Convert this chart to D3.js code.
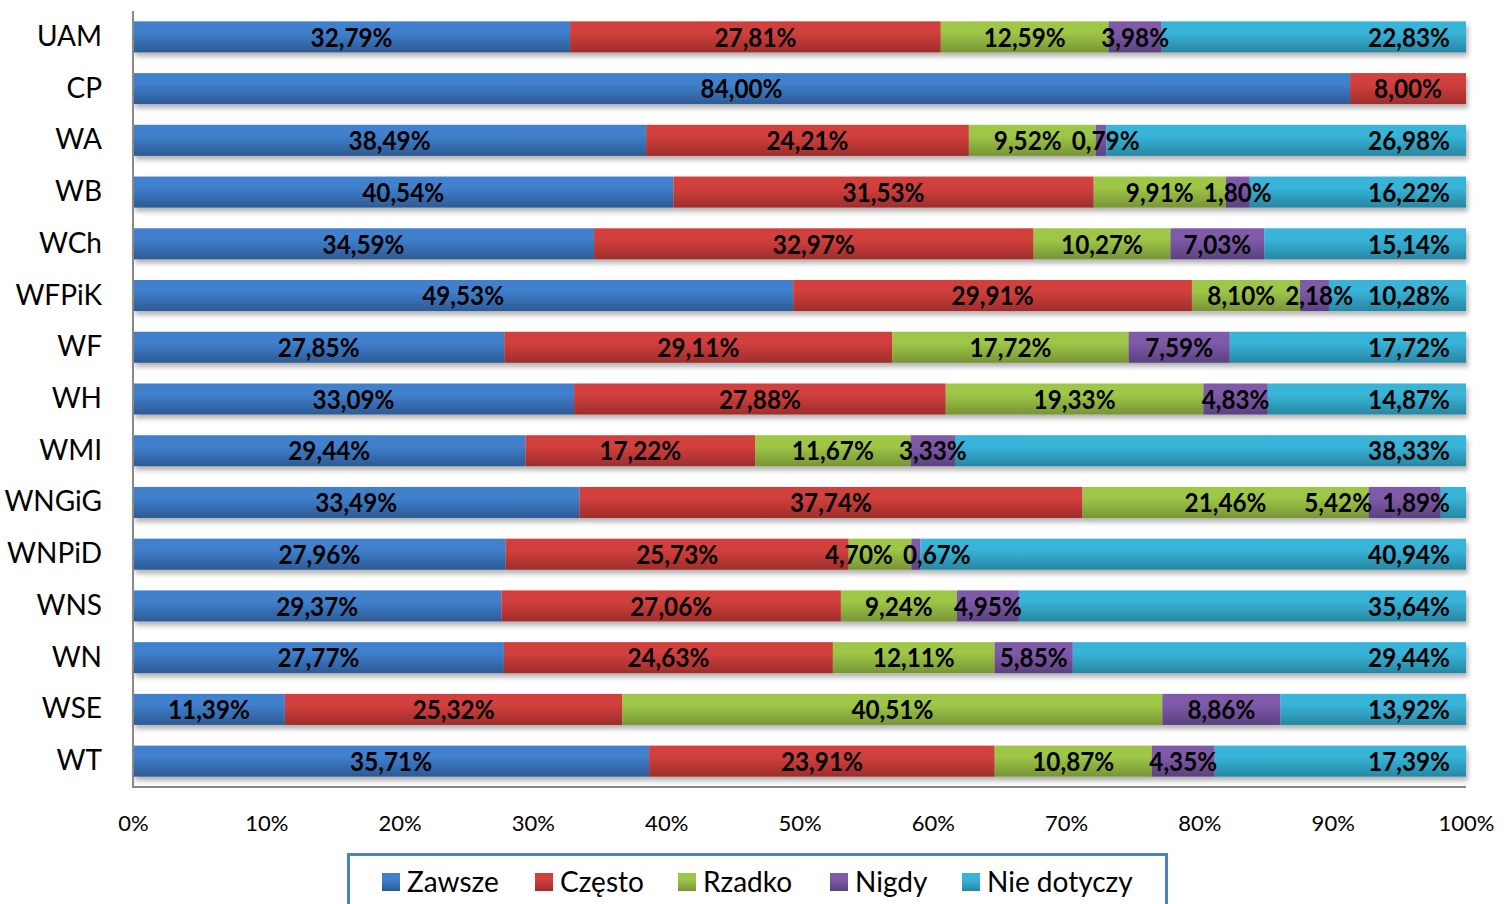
<!DOCTYPE html>
<html>
<head>
<meta charset="utf-8">
<script src="https://cdn.jsdelivr.net/npm/d3@7"></script>
<style>
  body { margin: 0; background: white; }
  svg { display: block; font-family: Lato, "Open Sans", sans-serif; }
</style>
</head>
<body>
<div id="chart"></div>
<script>
var width = 1511
var height = 904

// Data

var categories = ["UAM", "CP", "WA", "WB", "WCh", "WFPiK", "WF", "WH", "WMI", "WNGiG", "WNPiD", "WNS", "WN", "WSE", "WT"]
var seriesNames = ["Zawsze", "Często", "Rzadko", "Nigdy", "Nie dotyczy"]

var zawsze     = [32.79, 84.00, 38.49, 40.54, 34.59, 49.53, 27.85, 33.09, 29.44, 33.49, 27.96, 29.37, 27.77, 11.39, 35.71]
var czesto     = [27.81,  8.00, 24.21, 31.53, 32.97, 29.91, 29.11, 27.88, 17.22, 37.74, 25.73, 27.06, 24.63, 25.32, 23.91]
var rzadko     = [12.59,     0,  9.52,  9.91, 10.27,  8.10, 17.72, 19.33, 11.67, 21.46,  4.70,  9.24, 12.11, 40.51, 10.87]
var nigdy      = [ 3.98,     0,  0.79,  1.80,  7.03,  2.18,  7.59,  4.83,  3.33,  5.42,  0.67,  4.95,  5.85,  8.86,  4.35]
var nieDotyczy = [22.83,     0, 26.98, 16.22, 15.14, 10.28, 17.72, 14.87, 38.33,  1.89, 40.94, 35.64, 29.44, 13.92, 17.39]

var xTicks = [0, 0.1, 0.2, 0.3, 0.4, 0.5, 0.6, 0.7, 0.8, 0.9, 1]

var seriesValues = [zawsze, czesto, rzadko, nigdy, nieDotyczy]

// colours: top / bottom of the bar gradient
var colorTop    = ["#3f80cd", "#d2403d", "#9fc747", "#7f5aa9", "#38b4d8"]
var colorBottom = ["#2d5a94", "#9e2d2b", "#779535", "#5b4180", "#2787a3"]

// table for d3.stack
var rows = categories.map(function(c, i) {
    var r = {cat: c}
    seriesNames.forEach(function(s, j) { r[s] = seriesValues[j][i] })
    return r
})

var stacked = d3.stack()
    .keys(seriesNames)
    .offset(d3.stackOffsetExpand)(rows)

// Scales

var x_scale = d3.scaleLinear()
    .domain([0, 1])
    .range([133, 1466])

var y_scale = d3.scaleBand()
    .domain(categories)
    .range([11, 787])
    .paddingInner(0.4)
    .paddingOuter(0.2)

var svg = d3.select("#chart")
    .append("svg")
    .attr("width", width)
    .attr("height", height)

var defs = svg.append("defs")

seriesNames.forEach(function(s, j) {
    var g = defs.append("linearGradient")
        .attr("id", "grad" + j)
        .attr("x1", 0).attr("y1", 0).attr("x2", 0).attr("y2", 1)
    g.append("stop").attr("offset", "0%").attr("stop-color", colorTop[j])
    g.append("stop").attr("offset", "35%").attr("stop-color", colorTop[j])
    g.append("stop").attr("offset", "100%").attr("stop-color", colorBottom[j])
})

var shadow = defs.append("filter")
    .attr("id", "shadow")
    .attr("x", "-5%").attr("y", "-20%")
    .attr("width", "110%").attr("height", "160%")
shadow.append("feDropShadow")
    .attr("dx", 2).attr("dy", 4)
    .attr("stdDeviation", 2.5)
    .attr("flood-color", "#000")
    .attr("flood-opacity", 0.3)

// Bars

var barsG = svg.append("g").attr("filter", "url(#shadow)")

stacked.forEach(function(layer, j) {
    barsG.append("g")
        .selectAll("rect")
        .data(layer)
        .enter()
        .append("rect")
        .attr("x", function(d) { return x_scale(d[0]) })
        .attr("y", function(d) { return y_scale(d.data.cat) })
        .attr("width", function(d) { return Math.max(0, x_scale(d[1]) - x_scale(d[0])) })
        .attr("height", y_scale.bandwidth())
        .attr("fill", "url(#grad" + j + ")")
})

// Axes

var xAxis = d3.axisBottom(x_scale)
    .tickValues(xTicks)
    .tickSize(0)
    .tickPadding(28)
    .tickFormat(d3.format(".0%"))

var gx = svg.append("g")
    .attr("transform", "translate(0,787)")
    .call(xAxis)
gx.select(".domain").remove()
gx.selectAll("text")
    .style("font-size", "22px")
    .style("font-family", "Lato, sans-serif")
    .attr("fill", "#000")

var yAxis = d3.axisLeft(y_scale)
    .tickSize(0)
    .tickPadding(31)

var gy = svg.append("g")
    .attr("transform", "translate(133,0)")
    .call(yAxis)
gy.select(".domain").remove()
gy.selectAll("text")
    .style("font-size", "28px")
    .style("font-family", "Lato, sans-serif")
    .attr("fill", "#000")

svg.append("line")
    .attr("x1", 133).attr("x2", 133)
    .attr("y1", 11).attr("y2", 787)
    .attr("stroke", "#898989").attr("stroke-width", 2)
svg.append("line")
    .attr("x1", 132).attr("x2", 1466)
    .attr("y1", 787).attr("y2", 787)
    .attr("stroke", "#898989").attr("stroke-width", 2)

// Data labels (slightly squeezed, like the original)

var fmt = function(v) { return v.toFixed(2).replace(".", ",") + "%" }
var squeeze = 0.9
var labelsG = svg.append("g")

categories.forEach(function(c, i) {
    var labs = []
    var cy = y_scale(c) + y_scale.bandwidth() / 2
    stacked.forEach(function(layer, j) {
        var d = layer[i]
        var v = seriesValues[j][i]
        if (!v) return
        var t = labelsG.append("text")
            .attr("dy", "0.36em")
            .attr("text-anchor", "middle")
            .style("font-size", "27px")
            .style("font-weight", "bold")
            .attr("fill", "#000")
            .text(fmt(v))
        var w = t.node().getComputedTextLength() * squeeze
        var cx = (x_scale(d[0]) + x_scale(d[1])) / 2
        var fixed = false
        if (j == seriesNames.length - 1) {
            cx = x_scale(1) - 16 - w / 2
            fixed = true
        }
        labs.push({node: t, cx: cx, w: w, fixed: fixed})
    })
    // keep labels from running into each other
    for (var k = 0; k < 60; k++) {
        for (var a = 0; a < labs.length - 1; a++) {
            var L = labs[a], R = labs[a + 1]
            var over = (L.cx + L.w / 2 + 10) - (R.cx - R.w / 2)
            if (over > 0) {
                if (R.fixed) { L.cx -= over }
                else { L.cx -= over / 2; R.cx += over / 2 }
            }
        }
        labs.forEach(function(l) {
            var maxC = x_scale(1) - 16 - l.w / 2
            if (l.cx > maxC) l.cx = maxC
        })
    }
    labs.forEach(function(l) {
        l.node.attr("transform", "translate(" + l.cx + "," + cy + ") scale(" + squeeze + ",1)")
    })
})

// Legend

var legend = svg.append("g")

legend.append("rect")
    .attr("x", 348.5).attr("y", 854.5)
    .attr("width", 818).attr("height", 80)
    .attr("fill", "white")
    .attr("stroke", "#4f81bd")
    .attr("stroke-width", 3)

var legendX = [382, 535, 678, 830, 962]

seriesNames.forEach(function(s, j) {
    legend.append("rect")
        .attr("x", legendX[j]).attr("y", 873)
        .attr("width", 18).attr("height", 18)
        .attr("fill", "url(#grad" + j + ")")
    legend.append("text")
        .attr("x", legendX[j] + 25)
        .attr("y", 882)
        .attr("dy", "0.36em")
        .style("font-size", "28px")
        .attr("fill", "#000")
        .text(s)
})
</script>
</body>
</html>
